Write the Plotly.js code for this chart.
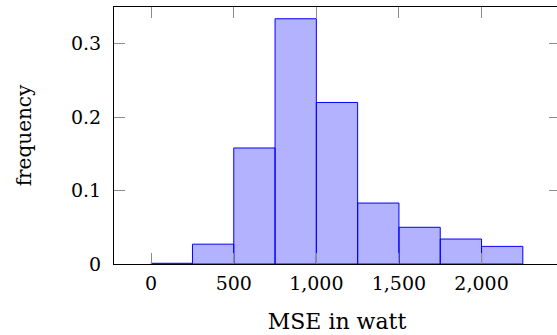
<!DOCTYPE html>
<html>
<head>
<meta charset="utf-8">
<script src="https://cdn.plot.ly/plotly-3.0.1.min.js"></script>
<style>
html, body { margin: 0; padding: 0; overflow: hidden; background: #fff; }
#chart { width: 560px; height: 335px; }
</style>
</head>
<body>
<div id="chart"></div>
<script>
// Histogram bins (left edges, in watt) and frequencies
const binStarts = [0, 250, 500, 750, 1000, 1250, 1500, 1750, 2000];
const binWidth = 250;
const frequencies = [0.001, 0.027, 0.158, 0.334, 0.220, 0.083, 0.050, 0.034, 0.024];
const xTickValues = [0, 500, 1000, 1500, 2000];
const yTickValues = [0, 0.1, 0.2, 0.3];
const xLabel = 'MSE in watt';
const yLabel = 'frequency';

const FONT = '"DejaVu Serif"';

const trace = {
  type: 'bar',
  x: binStarts,
  y: frequencies,
  width: binStarts.map(() => binWidth),
  offset: 0,
  marker: {
    color: 'rgba(0,0,255,0.3)',
    line: { color: '#0000ff', width: 1 }
  },
  hoverinfo: 'skip'
};

const layout = {
  width: 560,
  height: 335,
  margin: { l: 114, r: 0, t: 7, b: 71, pad: 0 },
  paper_bgcolor: '#ffffff',
  plot_bgcolor: '#ffffff',
  showlegend: false,
  font: { family: FONT, color: '#000000', size: 19 },
  xaxis: {
    range: [-225, 2475],
    tickmode: 'array',
    tickvals: xTickValues,
    tickformat: ',d',
    ticks: 'inside',
    ticklen: 11,
    tickwidth: 1,
    tickcolor: '#8c8c8c',
    showline: true,
    linecolor: '#000000',
    linewidth: 1,
    mirror: 'allticks',
    showgrid: false,
    zeroline: false,
    ticklabelstandoff: 2,
    tickfont: { family: FONT, size: 19, color: '#000' },
    title: { text: xLabel, font: { family: FONT, size: 22, color: '#000' }, standoff: 20 },
    automargin: false
  },
  yaxis: {
    range: [0, 0.35],
    tickmode: 'array',
    tickvals: yTickValues,
    ticks: 'inside',
    ticklen: 11,
    tickwidth: 1,
    tickcolor: '#8c8c8c',
    showline: true,
    linecolor: '#000000',
    linewidth: 1,
    mirror: 'allticks',
    showgrid: false,
    zeroline: false,
    ticklabelstandoff: 8,
    tickfont: { family: FONT, size: 19, color: '#000' },
    title: { text: yLabel, font: { family: FONT, size: 20, color: '#000' }, standoff: 33 },
    automargin: false
  }
};

Plotly.newPlot('chart', [trace], layout, { staticPlot: true, displayModeBar: false });
</script>
</body>
</html>
